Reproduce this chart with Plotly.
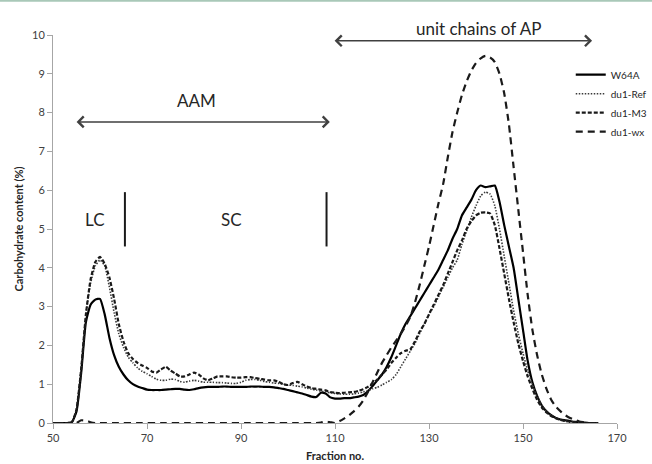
import plotly.graph_objects as go

fractions = list(range(50, 167))

w64a = [0, 0, 0, 0, 0.02, 0.3, 1.3, 2.6, 3.05, 3.18,
        3.2, 2.8, 2.2, 1.75, 1.45, 1.25, 1.1, 1.0, 0.94, 0.9,
        0.86, 0.85, 0.85, 0.85, 0.86, 0.87, 0.88, 0.88, 0.86, 0.85,
        0.87, 0.9, 0.92, 0.93, 0.93, 0.93, 0.94, 0.94, 0.93, 0.93,
        0.93, 0.93, 0.94, 0.94, 0.94, 0.93, 0.93, 0.92, 0.9, 0.88,
        0.85, 0.82, 0.79, 0.76, 0.72, 0.68, 0.67, 0.78, 0.76, 0.66,
        0.63, 0.63, 0.64, 0.64, 0.66, 0.68, 0.72, 0.82, 0.95, 1.1,
        1.25, 1.45, 1.7, 2.0, 2.3, 2.55, 2.75, 2.95, 3.15, 3.35,
        3.55, 3.75, 3.95, 4.2, 4.45, 4.75, 5.0, 5.35, 5.55, 5.75,
        6.0, 6.12, 6.08, 6.1, 6.12, 5.7, 5.1, 4.55, 4.0, 3.2,
        2.4, 1.6, 1.05, 0.7, 0.45, 0.3, 0.2, 0.13, 0.09, 0.07,
        0.05, 0.03, 0.02, 0.01, 0, 0, 0]

du1_ref = [0, 0, 0, 0, 0.02, 0.35, 1.4, 2.8, 3.6, 4.05,
           4.2, 4.05, 3.5, 2.85, 2.3, 1.95, 1.7, 1.55, 1.42, 1.33,
           1.27, 1.2, 1.13, 1.1, 1.1, 1.13, 1.12, 1.07, 1.05, 1.08,
           1.1, 1.08, 1.05, 1.05, 1.05, 1.04, 1.04, 1.03, 1.02, 1.02,
           1.05, 1.1, 1.12, 1.12, 1.1, 1.07, 1.05, 1.03, 1.02, 1.0,
           0.98, 0.97, 0.95, 0.93, 0.9, 0.87, 0.85, 0.82, 0.8, 0.78,
           0.76, 0.75, 0.74, 0.74, 0.75, 0.77, 0.8, 0.84, 0.88, 0.92,
           0.98, 1.05, 1.12, 1.25, 1.45, 1.65, 1.85, 2.05, 2.3, 2.55,
           2.8, 3.0, 3.25, 3.5, 3.75, 4.0, 4.2, 4.6, 4.95, 5.3,
           5.6, 5.85, 5.95, 5.9, 5.6, 5.0, 4.3, 3.6, 2.9, 2.3,
           1.8, 1.35, 1.0, 0.7, 0.45, 0.3, 0.2, 0.13, 0.08, 0.05,
           0.03, 0.02, 0.01, 0, 0, 0, 0]

du1_m3 = [0, 0, 0, 0, 0.02, 0.35, 1.4, 2.8, 3.7, 4.15,
          4.28, 4.1, 3.75, 3.2, 2.55, 2.1, 1.8, 1.65, 1.55, 1.48,
          1.42, 1.33, 1.3, 1.38, 1.45, 1.35, 1.28, 1.2, 1.2, 1.25,
          1.3, 1.25, 1.15, 1.1, 1.15, 1.2, 1.2, 1.2, 1.18, 1.17,
          1.17, 1.18, 1.18, 1.16, 1.14, 1.12, 1.1, 1.1, 1.06, 1.0,
          0.98, 1.03, 1.06, 1.0, 0.94, 0.9, 0.88, 0.86, 0.84, 0.8,
          0.78, 0.77, 0.78, 0.79, 0.8, 0.83, 0.87, 0.93, 1.02, 1.12,
          1.25, 1.38, 1.55, 1.68, 1.8, 1.86, 1.9, 2.1, 2.35, 2.55,
          2.8, 3.05, 3.3, 3.55, 3.85, 4.15, 4.45, 4.7, 5.0, 5.2,
          5.35, 5.42, 5.43, 5.4, 5.1, 4.5, 3.85, 3.2, 2.6, 2.05,
          1.6, 1.2, 0.88, 0.6, 0.4, 0.27, 0.18, 0.12, 0.08, 0.05,
          0.03, 0.02, 0.01, 0, 0, 0, 0]

du1_wx = [0, 0, 0, 0, 0, 0, 0.07, 0.06, 0.02, 0,
          0, 0, 0, 0, 0, 0, 0, 0, 0, 0,
          0, 0, 0, 0, 0, 0, 0, 0, 0, 0,
          0, 0, 0, 0, 0, 0, 0, 0, 0, 0,
          0, 0, 0, 0, 0, 0, 0, 0, 0, 0,
          0, 0, 0, 0, 0, 0, 0, 0.01, 0.04, 0.02,
          0, 0.05, 0.12, 0.2, 0.3, 0.42, 0.58, 0.8, 1.05, 1.3,
          1.55, 1.75, 1.95, 2.12, 2.3, 2.5, 2.73, 3.1, 3.55, 4.05,
          4.55, 5.1, 5.65, 6.15, 6.85, 7.5, 8.0, 8.45, 8.8, 9.08,
          9.28, 9.4, 9.46, 9.42, 9.3, 9.0, 8.5, 7.7, 6.6, 5.5,
          4.4, 3.3, 2.4, 1.75, 1.25, 0.88, 0.6, 0.42, 0.3, 0.2,
          0.13, 0.08, 0.04, 0.02, 0, 0, 0]

series_names = ["W64A", "du1-Ref", "du1-M3", "du1-wx"]
series_values = [w64a, du1_ref, du1_m3, du1_wx]
series_dash = ["solid", "1.5px,1.5px", "4px,2px", "7px,5px"]
series_width = [2.2, 1.6, 2.2, 2.2]
series_color = ["#000000", "#3a3a3a", "#1a1a1a", "#1a1a1a"]

FONT = "Lato, 'Liberation Sans', sans-serif"
TXT = "#262626"

fig = go.Figure()
for name, vals, dash, w, c in zip(series_names, series_values, series_dash,
                                  series_width, series_color):
    fig.add_trace(go.Scatter(x=fractions, y=vals, name=name, mode="lines",
                             line=dict(color=c, width=w, dash=dash,
                                       shape="spline", smoothing=0.5)))

axis_common = dict(showgrid=False, zeroline=False, showline=True,
                   linecolor="#a6a6a6", linewidth=1, ticks="outside",
                   tickcolor="#a6a6a6", ticklen=5, mirror=False,
                   automargin=False,
                   tickfont=dict(family=FONT, size=11, color="#404040"))

fig.update_xaxes(range=[50, 170], tick0=50, dtick=20,
                 title=dict(text="<b>Fraction no.</b>",
                            font=dict(family=FONT, size=11, color=TXT),
                            standoff=9),
                 **axis_common)
fig.update_yaxes(range=[0, 10], tick0=0, dtick=1,
                 title=dict(text="<b>Carbohydrate content (%)</b>",
                            font=dict(family=FONT, size=11, color=TXT),
                            standoff=6),
                 **axis_common)

# region annotations
arrow_style = dict(showarrow=True, text="", arrowside="end+start",
                   arrowhead=4, startarrowhead=4, arrowsize=1.4,
                   startarrowsize=1.4, arrowwidth=1.5, arrowcolor="#404040",
                   axref="x", ayref="y", xref="x", yref="y",
                   standoff=0, startstandoff=0)
fig.add_annotation(x=164.7, y=9.85, ax=109.6, ay=9.85, **arrow_style)
fig.add_annotation(x=108.9, y=7.76, ax=54.7, ay=7.76, **arrow_style)

fig.add_annotation(x=140.5, y=1.018, xref="x", yref="paper",
                   xanchor="center", yanchor="middle",
                   text="unit chains of AP", showarrow=False,
                   font=dict(family=FONT, size=17, color=TXT))

labels = [("AAM", 80.6, 8.3), ("LC", 59.0, 5.25), ("SC", 88.0, 5.25)]
for t, lx, ly in labels:
    fig.add_annotation(x=lx, y=ly, text=t, showarrow=False, xref="x", yref="y",
                       xanchor="center", yanchor="middle",
                       font=dict(family=FONT, size=17, color=TXT))

for bx in [65.3, 108.2]:
    fig.add_shape(type="line", x0=bx, x1=bx, y0=4.55, y1=5.95,
                  xref="x", yref="y", line=dict(color="#1a1a1a", width=2))

# thin frame line at top of the figure
fig.add_shape(type="line", xref="paper", yref="paper", x0=-0.1, x1=1.1,
              y0=1.088, y1=1.088, line=dict(color="#a9c8b8", width=2))

fig.update_layout(
    width=652, height=464,
    margin=dict(l=53, r=35, t=35, b=41, autoexpand=False),
    paper_bgcolor="white", plot_bgcolor="white",
    font=dict(family=FONT, color=TXT),
    legend=dict(x=0.918, y=0.935, xanchor="left", yanchor="top",
                bgcolor="rgba(0,0,0,0)", borderwidth=0,
                font=dict(family=FONT, size=10, color=TXT),
                itemwidth=30, tracegroupgap=0),
    showlegend=True,
)

fig.write_html("out.html")
